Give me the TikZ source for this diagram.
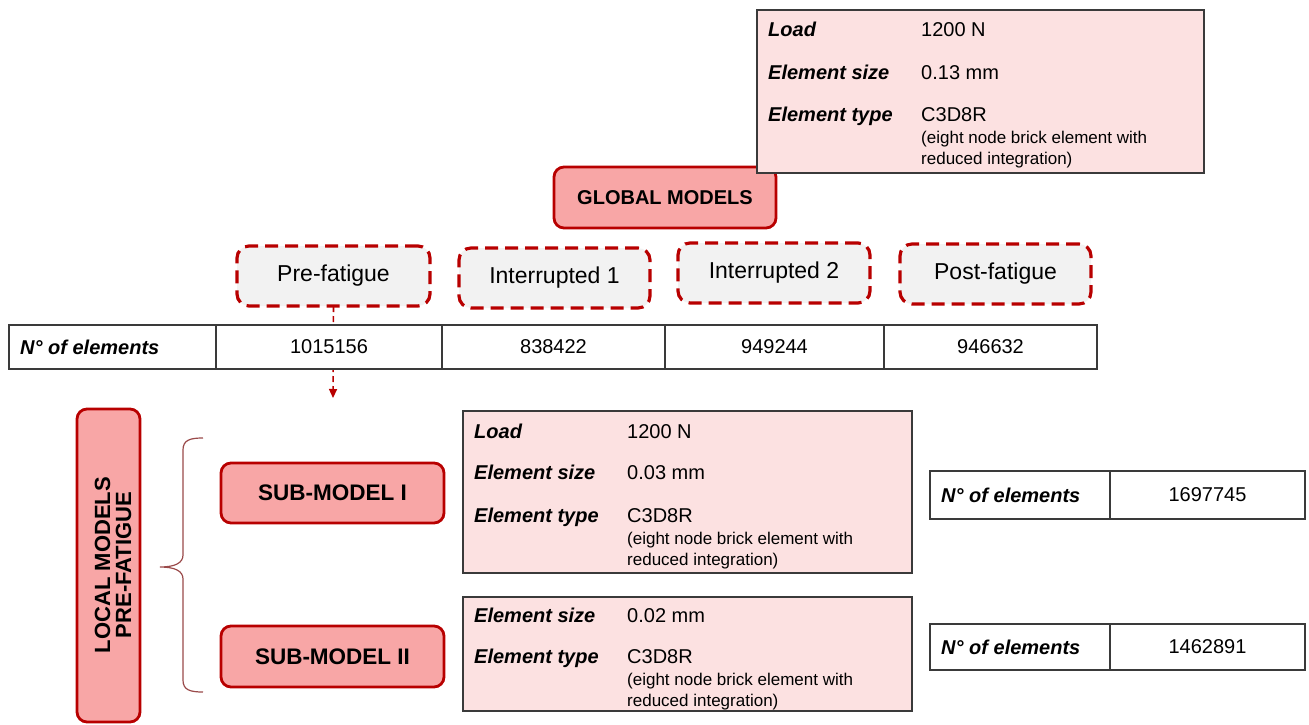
\documentclass[tikz,border=0pt]{standalone}
\usepackage{fontspec}
\setmainfont{Liberation Sans}
\usetikzlibrary{arrows.meta}
\definecolor{dred}{HTML}{B80000}
\definecolor{redfill}{HTML}{F8A6A6}
\definecolor{pinkfill}{HTML}{FCE1E1}
\definecolor{grayfill}{HTML}{F2F2F2}
\definecolor{bordergray}{HTML}{3A3A3A}
\definecolor{bracecol}{HTML}{9A4A4A}
\tikzset{
  box/.style={rectangle, inner sep=0pt, outer sep=0pt},
  redbox/.style={box, draw=dred, fill=redfill, line width=2.8pt, rounded corners=10pt, font=\fontsize{20}{24}\selectfont\bfseries},
  dashbox/.style={box, draw=dred, fill=grayfill, line width=3.2pt, rounded corners=12pt, dash pattern=on 13pt off 7pt, font=\fontsize{23}{27}\selectfont},
  pinkbox/.style={box, draw=bordergray, fill=pinkfill, line width=1.5pt},
  cell/.style={box, draw=bordergray, fill=white, line width=1.3pt, font=\fontsize{20}{24}\selectfont},
  lbl/.style={anchor=base west, inner sep=0pt, font=\fontsize{20}{24}\selectfont\bfseries\itshape},
  val/.style={anchor=base west, inner sep=0pt, font=\fontsize{20}{24}\selectfont},
  small/.style={anchor=base west, inner sep=0pt, font=\fontsize{17}{20}\selectfont},
}
\begin{document}
\begin{tikzpicture}[x=1pt,y=-1pt]
\useasboundingbox (0,0) rectangle (1309,725);

% global models
\node[redbox, minimum width=222pt, minimum height=61pt] (global) at (665,197.5) {GLOBAL MODELS};

% top parameter box
\node[pinkbox, minimum width=447pt, minimum height=163pt] (topbox) at (980.5,91.5) {};
\node[lbl] (tl1) at (768,37) {Load};
\node[val] (tv1) at (921,37) {1200 N};
\node[lbl] (tl2) at (768,79) {Element size};
\node[val] (tv2) at (921,79) {0.13 mm};
\node[lbl] (tl3) at (768,121) {Element type};
\node[val] (tv3) at (921,121) {C3D8R};
\node[small] (tp1) at (921,143) {(eight node brick element with};
\node[small] (tp2) at (921,164) {reduced integration)};

% dashed arrow (behind table)
\coordinate (arrend) at (333,398);

% stage boxes
\node[dashbox, minimum width=193pt, minimum height=60pt] (pre) at (333.5,276) {Pre-fatigue};
\node[dashbox, minimum width=191pt, minimum height=60pt] (int1) at (554.5,278) {Interrupted 1};
\node[dashbox, minimum width=192pt, minimum height=60pt] (int2) at (774,273) {Interrupted 2};
\node[dashbox, minimum width=191pt, minimum height=60pt] (post) at (995.5,274) {Post-fatigue};

\draw[dred, line width=1.6pt, dash pattern=on 6pt off 4pt, -{Triangle[length=9pt,width=8pt]}] (pre.south) -- (arrend);

% table of elements
\node[cell, minimum width=207pt, minimum height=44pt] (c0) at (112.5,347) {};
\node[lbl, anchor=west] (c0t) at (20,347) {N° of elements};
\node[cell, minimum width=226pt, minimum height=44pt] (c1) at (329,347) {1015156};
\node[cell, minimum width=223pt, minimum height=44pt] (c2) at (553.5,347) {838422};
\node[cell, minimum width=219pt, minimum height=44pt] (c3) at (774.5,347) {949244};
\node[cell, minimum width=213pt, minimum height=44pt] (c4) at (990.5,347) {946632};

% local models
\node[redbox, minimum width=63pt, minimum height=313pt] (local) at (108.5,565.5) {};
\node[rotate=90, inner sep=0pt, font=\fontsize{22}{21}\selectfont\bfseries, align=center] (localtxt) at (113,565) {LOCAL MODELS\\PRE-FATIGUE};

% brace
\draw[bracecol, line width=1.2pt]
  (203,438) .. controls (190,438) and (183,440) .. (183,450)
  -- (183,555) .. controls (183,563) and (175,567) .. (160,567)
  .. controls (175,567) and (183,571) .. (183,579)
  -- (183,680) .. controls (183,690) and (190,692) .. (203,692);

% sub-models
\node[redbox, minimum width=223pt, minimum height=60pt, font=\fontsize{22.5}{26}\selectfont\bfseries] (sub1) at (332.5,493) {SUB-MODEL I};
\node[redbox, minimum width=223pt, minimum height=61pt, font=\fontsize{22.5}{26}\selectfont\bfseries] (sub2) at (332.5,656.5) {SUB-MODEL II};

% box 2
\node[pinkbox, minimum width=449pt, minimum height=162pt] (box2) at (687.5,492) {};
\node[lbl] (b2l1) at (474,438) {Load};
\node[val] (b2v1) at (627,438) {1200 N};
\node[lbl] (b2l2) at (474,479) {Element size};
\node[val] (b2v2) at (627,479) {0.03 mm};
\node[lbl] (b2l3) at (474,522) {Element type};
\node[val] (b2v3) at (627,522) {C3D8R};
\node[small] (b2p1) at (627,544) {(eight node brick element with};
\node[small] (b2p2) at (627,565) {reduced integration)};

% box 3
\node[pinkbox, minimum width=449pt, minimum height=114pt] (box3) at (687.5,654) {};
\node[lbl] (b3l2) at (474,622) {Element size};
\node[val] (b3v2) at (627,622) {0.02 mm};
\node[lbl] (b3l3) at (474,663) {Element type};
\node[val] (b3v3) at (627,663) {C3D8R};
\node[small] (b3p1) at (627,685) {(eight node brick element with};
\node[small] (b3p2) at (627,706) {reduced integration)};

% small tables
\node[cell, minimum width=180pt, minimum height=48pt] (t1a) at (1020,495) {};
\node[lbl, anchor=west] (t1at) at (941,495) {N° of elements};
\node[cell, minimum width=195pt, minimum height=48pt] (t1b) at (1207.5,495) {1697745};
\node[cell, minimum width=180pt, minimum height=46pt] (t2a) at (1020,647) {};
\node[lbl, anchor=west] (t2at) at (941,647) {N° of elements};
\node[cell, minimum width=195pt, minimum height=46pt] (t2b) at (1207.5,647) {1462891};
\end{tikzpicture}
\end{document}
